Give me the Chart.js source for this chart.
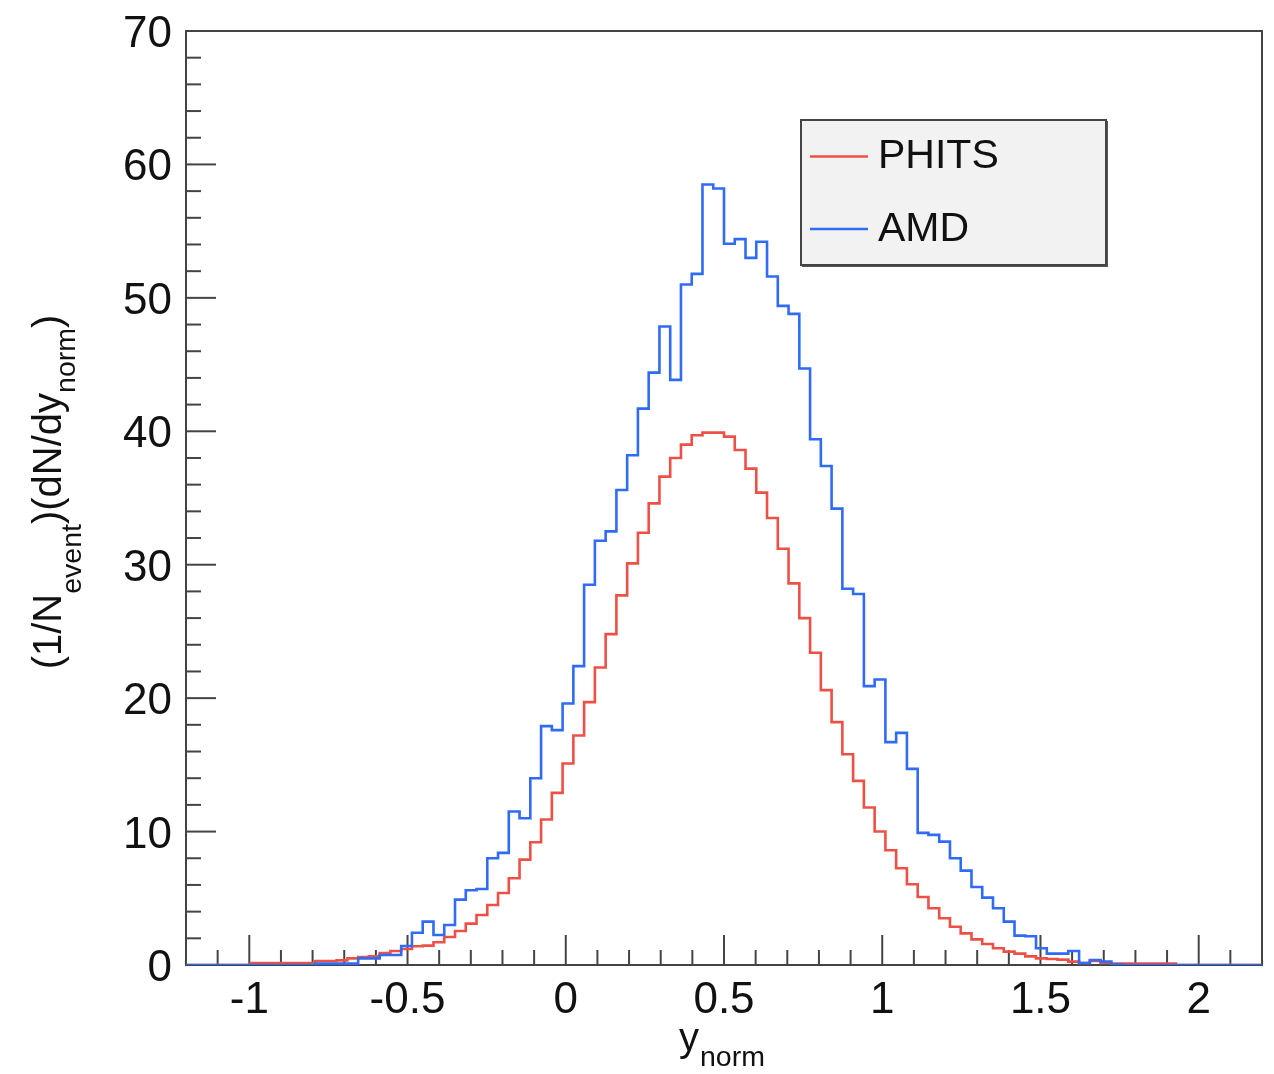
<!DOCTYPE html>
<html>
<head>
<meta charset="utf-8">
<script src="https://cdn.jsdelivr.net/npm/chart.js@4"></script>
<style>
  body { margin: 0; background: #fff; }
  #wrap { width: 1274px; height: 1074px; }
</style>
</head>
<body>
<div id="wrap"><canvas id="chart-1"></canvas></div>
<script>
// histogram binning (100 bins from -1.2 to 2.2)
const binLo = -1.2;
const binWidth = 0.034;

const seriesNames = ["PHITS", "AMD"];

const phits = [
  0, 0, 0, 0, 0, 0, 0.15, 0.15, 0.15, 0.15,
  0.15, 0.15, 0.3, 0.3, 0.35, 0.5, 0.6, 0.65, 0.9, 1.05,
  1.2, 1.4, 1.45, 1.7, 2.1, 2.55, 3.1, 3.75, 4.5, 5.4,
  6.5, 7.9, 9.2, 10.9, 12.9, 15.1, 17.2, 19.7, 22.3, 24.8,
  27.7, 30.1, 32.4, 34.6, 36.6, 38.0, 39.0, 39.7, 39.9, 39.9,
  39.6, 38.6, 37.2, 35.4, 33.5, 31.2, 28.6, 26.0, 23.4, 20.6,
  18.2, 15.8, 13.8, 11.8, 10.0, 8.6, 7.25, 6.05, 5.1, 4.25,
  3.5, 2.87, 2.37, 1.92, 1.57, 1.25, 1.0, 0.85, 0.65, 0.5,
  0.45, 0.4, 0.25, 0.15, 0.3, 0.15, 0.1, 0.1, 0.1, 0.1,
  0.1, 0.1, 0, 0, 0, 0, 0, 0, 0, 0
];

const amd = [
  0, 0, 0, 0, 0, 0, 0, 0, 0, 0,
  0, 0, 0.1, 0.1, 0.1, 0.1, 0.5, 0.5, 0.75, 0.75,
  1.42, 2.42, 3.25, 2.25, 3.0, 4.9, 5.6, 5.7, 8.0, 8.4,
  11.5, 11.0, 14.0, 17.9, 17.6, 19.6, 22.4, 28.5, 31.8, 32.5,
  35.6, 38.2, 41.7, 44.4, 47.85, 43.85, 51.0, 51.8, 58.5, 58.2,
  54.05, 54.4, 53.0, 54.2, 51.6, 49.4, 48.8, 44.7, 39.4, 37.4,
  34.2, 28.2, 27.8, 20.9, 21.4, 16.7, 17.4, 14.7, 9.9, 9.75,
  9.25, 8.0, 7.07, 5.85, 5.05, 4.25, 3.25, 2.2, 2.15, 1.25,
  0.85, 0.85, 1.05, 0.15, 0.37, 0.25, 0.05, 0, 0, 0,
  0, 0, 0, 0, 0, 0, 0, 0, 0, 0
];

const xMajorTicks = [-1, -0.5, 0, 0.5, 1, 1.5, 2];
const xTickLabels = ["-1", "-0.5", "0", "0.5", "1", "1.5", "2"];
const yMajorTicks = [0, 10, 20, 30, 40, 50, 60, 70];

const RED = "#ee5046";
const BLUE = "#2f6bf5";

// bin contents -> step points (left edges + closing right edge)
function toSteps(vals) {
  const pts = vals.map((v, i) => ({ x: binLo + i * binWidth, y: v }));
  pts.push({ x: binLo + vals.length * binWidth, y: vals[vals.length - 1] });
  return pts;
}

const FONT = "'Liberation Sans', Arial, Helvetica, sans-serif";

const rootFrame = {
  id: "rootFrame",
  beforeDatasetsDraw(chart) {
    const { ctx, chartArea: a, scales } = chart;
    const xs = scales.x, ys = scales.y;
    ctx.save();
    ctx.strokeStyle = "#444";
    ctx.lineWidth = 2;
    ctx.strokeRect(a.left, a.top, a.right - a.left, a.bottom - a.top);

    // x ticks, inward from the bottom
    for (let k = -12; k <= 22; k++) {
      const px = xs.getPixelForValue(k / 10);
      if (px <= a.left + 1 || px >= a.right - 1) continue;
      const len = (k % 5 === 0) ? 30 : 15;
      ctx.beginPath();
      ctx.moveTo(px, a.bottom);
      ctx.lineTo(px, a.bottom - len);
      ctx.stroke();
    }
    // y ticks, inward from the left
    for (let v = 0; v <= 70; v += 2) {
      const py = ys.getPixelForValue(v);
      if (py <= a.top + 1 || py >= a.bottom - 1) continue;
      const len = (v % 10 === 0) ? 30 : 15;
      ctx.beginPath();
      ctx.moveTo(a.left, py);
      ctx.lineTo(a.left + len, py);
      ctx.stroke();
    }

    // tick labels
    ctx.fillStyle = "#111";
    ctx.font = "44px " + FONT;
    ctx.textAlign = "center";
    ctx.textBaseline = "alphabetic";
    xMajorTicks.forEach((v, i) => {
      ctx.fillText(xTickLabels[i], xs.getPixelForValue(v), 1013);
    });
    ctx.textAlign = "right";
    yMajorTicks.forEach(v => {
      ctx.fillText(String(v), 172, ys.getPixelForValue(v) + 16);
    });

    // x title: y_norm
    ctx.textAlign = "left";
    ctx.font = "40px " + FONT;
    ctx.fillText("y", 679, 1051);
    ctx.font = "28.5px " + FONT;
    ctx.fillText("norm", 700, 1066);

    // y title: (1/N_event)(dN/dy_norm), rotated
    ctx.save();
    ctx.translate(61, 492);
    ctx.rotate(-Math.PI / 2);
    const parts = [
      ["(1/N", 40, 0], ["event", 28.5, 20], [")(dN/dy", 40, 0], ["norm", 28.5, 14], [")", 40, 0]
    ];
    let total = 0;
    parts.forEach(p => { ctx.font = p[1] + "px " + FONT; total += ctx.measureText(p[0]).width; });
    let cx = -total / 2;
    parts.forEach(p => {
      ctx.font = p[1] + "px " + FONT;
      ctx.fillText(p[0], cx, p[2]);
      cx += ctx.measureText(p[0]).width;
    });
    ctx.restore();
    ctx.restore();
  },
  afterDraw(chart) {
    const { ctx } = chart;
    ctx.save();
    // legend box
    ctx.fillStyle = "#555";
    ctx.fillRect(802, 121, 306, 146);
    ctx.fillStyle = "#f2f2f2";
    ctx.fillRect(801, 120, 305, 145);
    ctx.strokeStyle = "#444";
    ctx.lineWidth = 2;
    ctx.strokeRect(801, 120, 305, 145);

    const entries = [[seriesNames[0], RED, 156.5, 168], [seriesNames[1], BLUE, 229, 241]];
    entries.forEach(e => {
      ctx.strokeStyle = e[1];
      ctx.lineWidth = 2.5;
      ctx.beginPath();
      ctx.moveTo(810, e[2]);
      ctx.lineTo(868, e[2]);
      ctx.stroke();
      ctx.fillStyle = "#111";
      ctx.font = "41px " + FONT;
      ctx.textAlign = "left";
      ctx.fillText(e[0], 878, e[3]);
    });
    ctx.restore();
  }
};

const ctx1 = document.getElementById("chart-1").getContext("2d");
const myChart = new Chart(ctx1, {
  type: "line",
  data: {
    datasets: [
      {
        label: seriesNames[0],
        data: toSteps(phits),
        borderColor: RED,
        borderWidth: 2.6,
        stepped: "before",
        pointRadius: 0,
        fill: false,
        order: 1,
      },
      {
        label: seriesNames[1],
        data: toSteps(amd),
        borderColor: BLUE,
        borderWidth: 2.6,
        stepped: "before",
        pointRadius: 0,
        fill: false,
        order: 0,
      },
    ],
  },
  options: {
    responsive: true,
    maintainAspectRatio: false,
    animation: false,
    layout: { padding: { left: 186, right: 12, top: 31, bottom: 109 } },
    plugins: { legend: { display: false }, tooltip: { enabled: false } },
    scales: {
      x: { type: "linear", min: -1.2, max: 2.2, display: false },
      y: { type: "linear", min: 0, max: 70, display: false },
    },
  },
  plugins: [rootFrame],
});
</script>
</body>
</html>
